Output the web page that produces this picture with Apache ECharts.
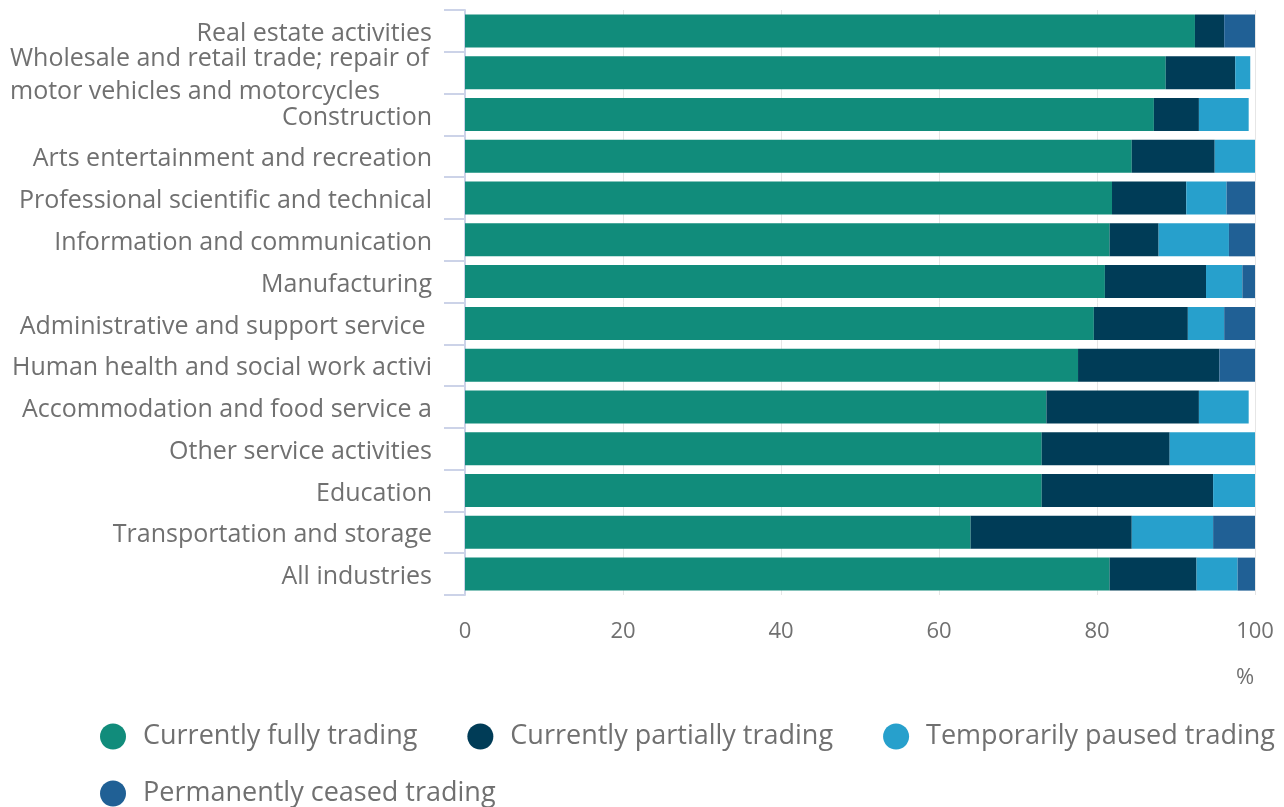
<!DOCTYPE html>
<html>
<head>
<meta charset="utf-8">
<script src="https://cdn.jsdelivr.net/npm/echarts@6/dist/echarts.min.js"></script>
<style>
html,body{margin:0;padding:0;background:#fff;}
#chart{width:1284px;height:807px;}
</style>
</head>
<body>
<div id="chart"></div>
<script>
const categories = [
  "Real estate activities",
  "Wholesale and retail trade; repair of motor vehicles and motorcycles",
  "Construction",
  "Arts entertainment and recreation",
  "Professional scientific and technical activities",
  "Information and communication",
  "Manufacturing",
  "Administrative and support service activities",
  "Human health and social work activities",
  "Accommodation and food service activities",
  "Other service activities",
  "Education",
  "Transportation and storage",
  "All industries"
];
const seriesNames = ["Currently fully trading", "Currently partially trading", "Temporarily paused trading", "Permanently ceased trading"];
const fully     = [92.4, 88.7, 87.2, 84.4, 81.9, 81.6, 81.0, 79.6, 77.6, 73.6, 73.0, 73.0, 64.0, 81.6];
const partially = [3.7, 8.8, 5.7, 10.5, 9.4, 6.2, 12.8, 11.9, 17.9, 19.3, 16.2, 21.7, 20.4, 11.0];
const paused    = [0, 1.9, 6.3, 5.1, 5.1, 8.9, 4.6, 4.6, 0, 6.3, 10.8, 5.3, 10.3, 5.2];
const ceased    = [3.9, 0, 0, 0, 3.6, 3.3, 1.6, 3.9, 4.5, 0, 0, 0, 5.3, 2.2];
const xTicks = [0, 20, 40, 60, 80, 100];

const colors = ["#118c7b", "#003c57", "#27a0cc", "#206095"];
const FONT = "Open Sans";
const textGray = "#707070";

function wrapLabel(v) {
  const maxChars = 38;
  if (v.length <= 50) return v;
  const words = v.split(' ');
  const lines = [];
  let cur = '';
  words.forEach(w => {
    const t = cur ? cur + ' ' + w : w;
    if (t.length > maxChars && cur) { lines.push(cur); cur = w; } else { cur = t; }
  });
  if (cur) lines.push(cur);
  return lines.map(l => '{a|' + l + '}').join('\n');
}

const chart = echarts.init(document.getElementById('chart'), null, {renderer: 'canvas'});
const data = [fully, partially, paused, ceased];
const legendText = {fontFamily: FONT, fontSize: 27, color: textGray, padding: [0, 0, 0, 12]};
const option = {
  animation: false,
  color: colors,
  grid: {left: 465, right: 29, top: 10, bottom: 212, containLabel: false},
  xAxis: {
    type: 'value', min: 0, max: 100, interval: 20,
    axisLine: {show: false},
    axisTick: {show: false},
    splitLine: {show: true, lineStyle: {color: '#e6e6e6', width: 1}},
    axisLabel: {fontFamily: FONT, fontSize: 22, color: textGray, margin: 26,
      formatter: v => xTicks.includes(v) ? String(v) : ''},
    name: '%', nameLocation: 'end', nameGap: -10,
    nameTextStyle: {fontFamily: FONT, fontSize: 22, color: textGray, align: 'center', verticalAlign: 'top', padding: [72, 0, 0, 0]}
  },
  yAxis: {
    type: 'category', data: categories, inverse: true,
    axisLine: {show: true, lineStyle: {color: '#ccd3e8', width: 2}},
    axisTick: {show: true, length: 21, interval: 0, lineStyle: {color: '#ccd3e8', width: 2}},
    axisLabel: {
      interval: 0, hideOverlap: false,
      fontFamily: FONT, fontSize: 25, color: textGray, margin: 33,
      padding: [6, 0, 0, 0],
      width: 422, overflow: 'truncate', ellipsis: '',
      formatter: v => wrapLabel(v),
      rich: {a: {fontFamily: FONT, fontSize: 25, color: textGray, align: 'left', lineHeight: 33}}
    }
  },
  legend: [
    {
      data: seriesNames.slice(0, 3), left: 100, top: 723, icon: 'circle', padding: 0,
      itemWidth: 26, itemHeight: 26, itemGap: 50, textStyle: legendText
    },
    {
      data: seriesNames.slice(3), left: 100, top: 780, icon: 'circle', padding: 0,
      itemWidth: 26, itemHeight: 26, itemGap: 50, textStyle: legendText
    }
  ],
  series: seriesNames.map((n, i) => ({
    name: n, type: 'bar', stack: 'total', data: data[i],
    barCategoryGap: '21%',
    itemStyle: {color: colors[i]},
    emphasis: {disabled: true}
  }))
};
chart.setOption(option);
</script>
</body>
</html>
